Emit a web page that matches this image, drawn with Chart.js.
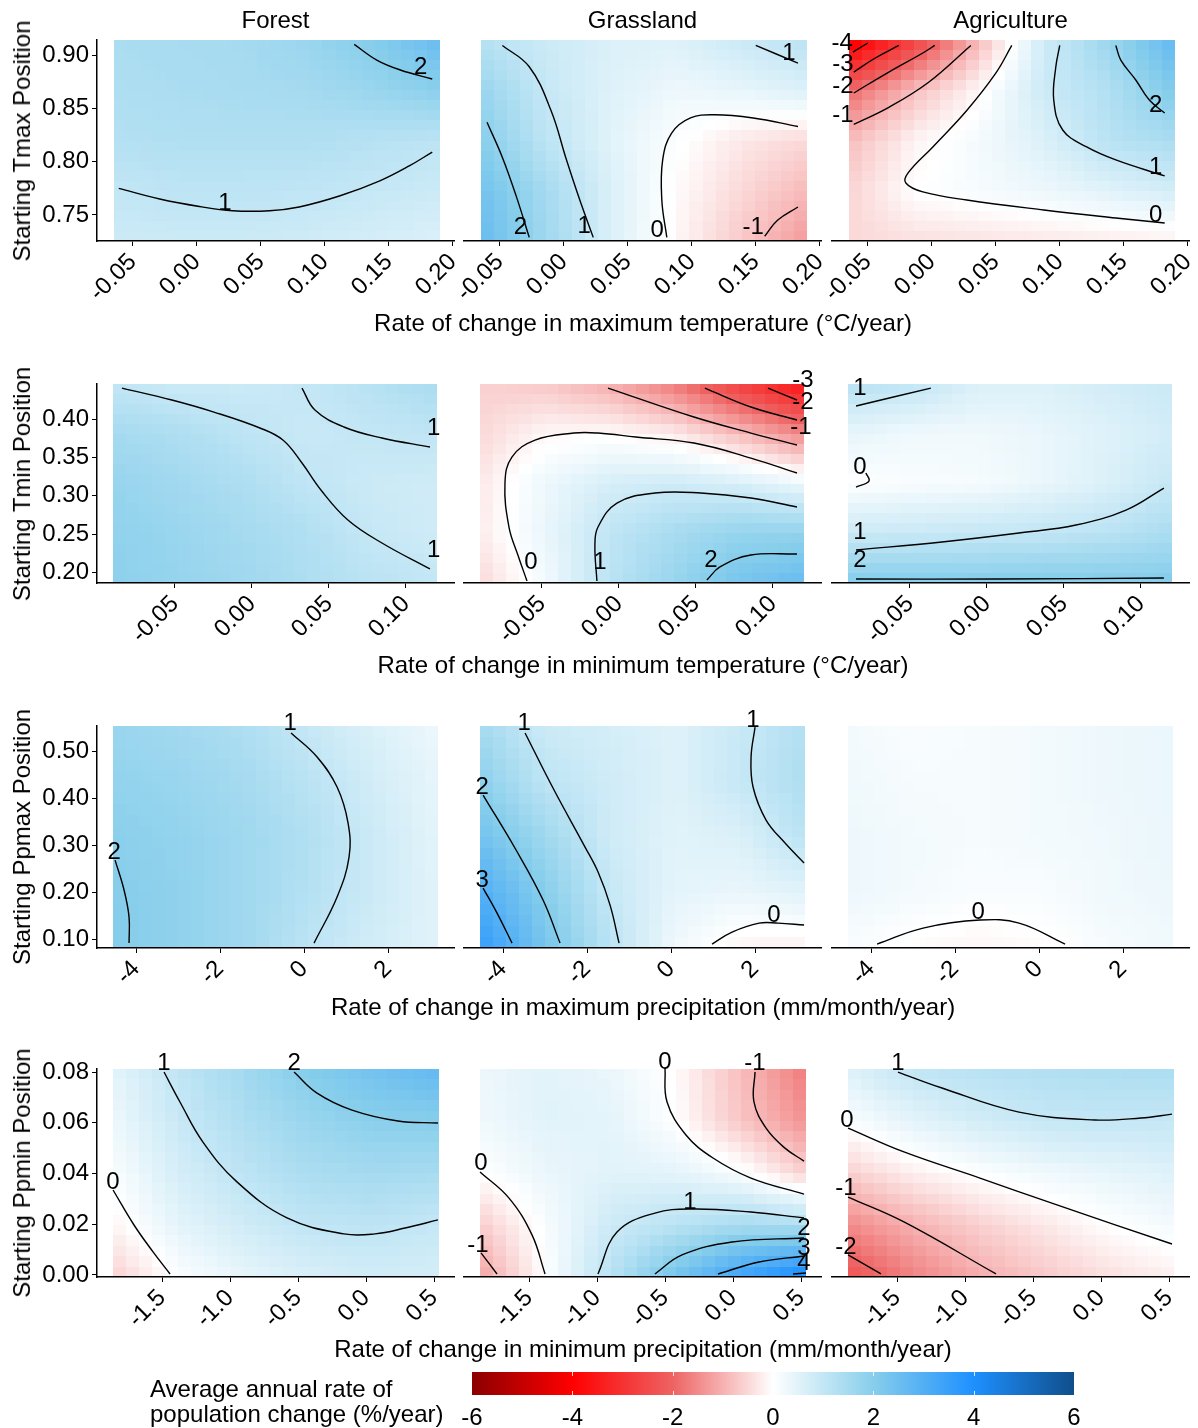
<!DOCTYPE html>
<html>
<head>
<meta charset="utf-8">
<title>Population change surfaces</title>
<script src="https://cdn.jsdelivr.net/npm/chart.js@4.4.1/dist/chart.umd.min.js"></script>
<style>
  html, body { margin: 0; padding: 0; background: #fff; }
  #page { position: relative; width: 1198px; height: 1428px; overflow: hidden;
          font-family: "Liberation Sans", Arial, sans-serif; color: #000; }
  #page canvas { position: absolute; }
  .lbl { position: absolute; font-size: 24px; line-height: 24px; white-space: nowrap; transform: translate(-50%, -50%); }
  .ylbl { transform: translate(-50%, -50%) rotate(-90deg); }
  .legend-title { position: absolute; font-size: 24px; line-height: 25px; white-space: nowrap; }
</style>
</head>
<body>
<div id="page"></div>
<script>
// ---------- labels ----------
const colTitles = ['Forest', 'Grassland', 'Agriculture'];
const xTitles = [
  'Rate of change in maximum temperature (°C/year)',
  'Rate of change in minimum temperature (°C/year)',
  'Rate of change in maximum precipitation (mm/month/year)',
  'Rate of change in minimum precipitation (mm/month/year)'
];
const yTitles = ['Starting Tmax Position', 'Starting Tmin Position', 'Starting Ppmax Position', 'Starting Ppmin Position'];

// ---------- colour scale ----------
const legendValues = [-6, -4, -2, 0, 2, 4, 6];
const legendColors = ['#8B0000', '#FF0000', '#EE6363', '#FFFFFF', '#87CEEB', '#1E90FF', '#104E8B'];

// ---------- row 1 : Tmax ----------
const tmaxXTicks = [-0.05, 0, 0.05, 0.10, 0.15, 0.20];
const tmaxYTicks = [0.75, 0.80, 0.85, 0.90];
const tmaxXLim = [-0.078, 0.201];
const tmaxYLim = [0.7256, 0.9141];
const tmaxXNodes = [-0.065, -0.014, 0.037, 0.088, 0.139, 0.19];
const tmaxYNodes = [0.7256, 0.7727, 0.8198, 0.867, 0.9141];
const tmaxForest = [
  [0.85, 0.85, 0.85, 0.8, 0.7, 0.6],
  [1.0, 1.1, 1.1, 1.05, 0.95, 0.85],
  [1.25, 1.3, 1.3, 1.3, 1.2, 1.1],
  [1.35, 1.4, 1.45, 1.5, 1.7, 1.95],
  [1.4, 1.45, 1.5, 1.7, 2.05, 2.6]
];
const tmaxGrass = [
  [2.6, 1.6, 0.6, -0.1, -0.7, -1.3],
  [2.4, 1.5, 0.6, -0.05, -0.5, -0.9],
  [2.0, 1.1, 0.5, 0.05, -0.3, -0.5],
  [1.7, 0.95, 0.55, 0.3, 0.4, 0.6],
  [1.2, 0.85, 0.6, 0.55, 0.9, 1.15]
];
const tmaxAgri = [
  [-0.5, -0.4, -0.35, -0.3, -0.25, -0.2],
  [-0.55, 0.0, 0.15, 0.3, 0.5, 0.75],
  [-0.85, -0.15, 0.2, 0.6, 1.2, 1.4],
  [-1.95, -0.85, -0.1, 0.85, 1.3, 2.15],
  [-4.3, -2.7, -0.9, 0.8, 1.7, 2.7]
];
const tmaxForestLines = [
  { level: '1', at: [0.022, 0.761], pts: [[-0.061, 0.775], [-0.029, 0.765], [0.002, 0.758], [0.028, 0.754], [0.057, 0.754], [0.080, 0.7575], [0.112, 0.768], [0.143, 0.782], [0.166, 0.796], [0.184, 0.809]] },
  { level: '2', at: [0.175, 0.888], pts: [[0.123, 0.910], [0.141, 0.895], [0.159, 0.886], [0.184, 0.8775]] }
];
const tmaxGrassLines = [
  { level: '2', at: [-0.034, 0.738], pts: [[-0.060, 0.837], [-0.048, 0.804], [-0.037, 0.767], [-0.027, 0.729]] },
  { level: '1', at: [0.016, 0.739], pts: [[-0.048, 0.909], [-0.027, 0.889], [-0.010, 0.848], [0.002, 0.802], [0.0125, 0.764], [0.023, 0.729]] },
  { level: '0', at: [0.073, 0.736], pts: [[0.0805, 0.729], [0.0766, 0.764], [0.0773, 0.802], [0.0844, 0.827], [0.099, 0.841], [0.118, 0.844], [0.148, 0.841], [0.183, 0.833]] },
  { level: '-1', at: [0.148, 0.738], pts: [[0.157, 0.730], [0.167, 0.745], [0.183, 0.7575]] },
  { level: '1', at: [0.176, 0.902], pts: [[0.150, 0.909], [0.183, 0.8925]] }
];
const tmaxAgriLines = [
  { level: '-4', at: [-0.070, 0.911], pts: [[-0.0617, 0.9028], [-0.050, 0.9113]] },
  { level: '-3', at: [-0.0695, 0.8916], pts: [[-0.061, 0.884], [-0.0445, 0.897], [-0.0258, 0.909]] },
  { level: '-2', at: [-0.0695, 0.871], pts: [[-0.061, 0.8644], [-0.0336, 0.884], [-0.007, 0.9019], [0.0023, 0.909]] },
  { level: '-1', at: [-0.0695, 0.8437], pts: [[-0.061, 0.835], [-0.0336, 0.851], [-0.003, 0.874], [0.0305, 0.909]] },
  { level: '0', at: [0.175, 0.750], pts: [[0.0625, 0.909], [0.050, 0.883], [0.0273, 0.848], [0.0008, 0.8138], [-0.0188, 0.789], [-0.0203, 0.780], [-0.007, 0.7716], [0.0273, 0.764], [0.0875, 0.7547], [0.1438, 0.7472], [0.182, 0.7425]] },
  { level: '1', at: [0.175, 0.795], pts: [[0.100, 0.909], [0.0969, 0.8888], [0.0953, 0.8578], [0.1023, 0.8297], [0.121, 0.8138], [0.1438, 0.8016], [0.182, 0.7866]] },
  { level: '2', at: [0.175, 0.853], pts: [[0.1438, 0.909], [0.1477, 0.8953], [0.1594, 0.8766], [0.170, 0.8578], [0.182, 0.8456]] }
];

// ---------- row 2 : Tmin ----------
const tminXTicks = [-0.05, 0, 0.05, 0.10];
const tminYTicks = [0.20, 0.25, 0.30, 0.35, 0.40];
const tminXLim = [-0.1006, 0.1312];
const tminYLim = [0.1861, 0.4457];
const tminXNodes = [-0.09, -0.048, -0.006, 0.036, 0.078, 0.12];
const tminYNodes = [0.1861, 0.251, 0.3159, 0.3808, 0.4457];
const tminForest = [
  [1.9, 1.75, 1.6, 1.35, 1.15, 1.0],
  [1.85, 1.7, 1.5, 1.3, 0.95, 0.8],
  [1.75, 1.55, 1.35, 1.05, 0.85, 0.8],
  [1.5, 1.35, 1.1, 0.9, 1.0, 1.05],
  [1.02, 0.85, 0.85, 0.98, 1.2, 1.45]
];
const tminGrass = [
  [-0.5, 0.2, 1.15, 1.7, 2.3, 2.6],
  [-0.25, 0.35, 1.05, 1.45, 1.75, 1.8],
  [-0.3, 0.3, 0.7, 0.8, 0.65, 0.3],
  [-0.5, -0.1, -0.05, -0.25, -0.85, -1.5],
  [-0.6, -0.7, -1.05, -1.7, -2.7, -3.6]
];
const tminAgri = [
  [2.05, 2.05, 2.05, 2.05, 2.05, 2.05],
  [0.85, 0.9, 0.95, 1.02, 1.15, 1.4],
  [0.0, 0.1, 0.15, 0.35, 0.6, 0.95],
  [0.4, 0.25, 0.25, 0.35, 0.55, 0.75],
  [1.2, 1.05, 0.6, 0.6, 0.75, 0.9]
];
const tminForestLines = [
  { level: '1', at: [0.118, 0.229], pts: [[-0.0844, 0.4404], [-0.052, 0.4248], [-0.0247, 0.4091], [0.0052, 0.3883], [0.0201, 0.3726], [0.0325, 0.3426], [0.0448, 0.3074], [0.0623, 0.2683], [0.0844, 0.2383], [0.1156, 0.2044]] },
  { level: '1', at: [0.118, 0.388], pts: [[0.0325, 0.4404], [0.0409, 0.4117], [0.0597, 0.3896], [0.0844, 0.3752], [0.1156, 0.3635]] }
];
const tminGrassLines = [
  { level: '0', at: [-0.0571, 0.2135], pts: [[-0.0597, 0.1887], [-0.0655, 0.222], [-0.0714, 0.2591], [-0.074, 0.3165], [-0.0695, 0.3504], [-0.0545, 0.3726], [-0.0292, 0.3817], [-0.0136, 0.3817], [0.011, 0.3765], [0.0487, 0.3687], [0.0857, 0.3491], [0.1156, 0.3296]] },
  { level: '1', at: [-0.0123, 0.2135], pts: [[-0.0143, 0.1887], [-0.0156, 0.2357], [-0.0136, 0.2591], [-0.0013, 0.2904], [0.0234, 0.3035], [0.0532, 0.3035], [0.0857, 0.297], [0.1156, 0.2852]] },
  { level: '2', at: [0.0597, 0.216], pts: [[0.0571, 0.19], [0.0656, 0.207], [0.0857, 0.2226], [0.1156, 0.2239]] },
  { level: '-1', at: [0.1182, 0.3896], pts: [[-0.0071, 0.4404], [0.0487, 0.4026], [0.0857, 0.3817], [0.1156, 0.3661]] },
  { level: '-2', at: [0.1195, 0.422], pts: [[0.0558, 0.4404], [0.0857, 0.4157], [0.1156, 0.3987]] },
  { level: '-3', at: [0.1195, 0.4509], pts: [[0.0968, 0.4404], [0.1156, 0.4248]] }
];
const tminAgriLines = [
  { level: '1', at: [-0.0825, 0.4404], pts: [[-0.085, 0.417], [-0.0364, 0.4404]] },
  { level: '0', at: [-0.0825, 0.3374], pts: [[-0.085, 0.3113], [-0.0766, 0.3191], [-0.0786, 0.3296]] },
  { level: '1', at: [-0.0825, 0.2526], pts: [[-0.085, 0.2291], [-0.0292, 0.2396], [0.0208, 0.2513], [0.0578, 0.2617], [0.0903, 0.2813], [0.1149, 0.31]] },
  { level: '2', at: [-0.0825, 0.2161], pts: [[-0.085, 0.1913], [0.0084, 0.1913], [0.1149, 0.1926]] }
];

// ---------- row 3 : Ppmax ----------
const ppmaxXTicks = [-4, -2, 0, 2];
const ppmaxYTicks = [0.10, 0.20, 0.30, 0.40, 0.50];
const ppmaxXLim = [-4.93, 3.57];
const ppmaxYLim = [0.081, 0.5532];
const ppmaxXNodes = [-4.55, -3.0, -1.45, 0.1, 1.65, 3.2];
const ppmaxYNodes = [0.081, 0.199, 0.317, 0.4351, 0.5532];
const ppmaxForest = [
  [2.05, 1.85, 1.6, 1.1, 0.75, 0.5],
  [2.03, 1.85, 1.6, 1.25, 0.85, 0.5],
  [1.95, 1.8, 1.6, 1.3, 0.85, 0.45],
  [1.8, 1.7, 1.5, 1.15, 0.75, 0.4],
  [1.7, 1.55, 1.35, 0.95, 0.6, 0.3]
];
const ppmaxGrass = [
  [3.6, 2.3, 1.15, 0.25, -0.15, -0.2],
  [3.05, 2.0, 0.95, 0.45, 0.35, 0.5],
  [2.4, 1.6, 0.8, 0.5, 0.6, 1.15],
  [1.9, 1.1, 0.8, 0.55, 0.95, 1.35],
  [1.5, 0.85, 0.7, 0.55, 0.9, 1.3]
];
const ppmaxAgri = [
  [0.1, -0.05, -0.12, -0.05, 0.15, 0.25],
  [0.3, 0.2, 0.1, 0.12, 0.25, 0.3],
  [0.3, 0.2, 0.15, 0.2, 0.25, 0.35],
  [0.25, 0.15, 0.15, 0.2, 0.3, 0.35],
  [0.2, 0.1, 0.15, 0.2, 0.3, 0.35]
];
const ppmaxForestLines = [
  { level: '1', at: [-0.333, 0.5596], pts: [[-0.31, 0.5383], [0.31, 0.4872], [0.786, 0.4234], [1.048, 0.3468], [1.071, 0.2745], [0.786, 0.1894], [0.238, 0.0915]] },
  { level: '2', at: [-4.52, 0.285], pts: [[-4.5, 0.268], [-4.286, 0.2043], [-4.167, 0.1468], [-4.167, 0.0915]] }
];
const ppmaxGrassLines = [
  { level: '1', at: [-3.5, 0.5596], pts: [[-3.476, 0.5383], [-2.786, 0.417], [-2.048, 0.2957], [-1.738, 0.2426], [-1.452, 0.1723], [-1.238, 0.0915]] },
  { level: '2', at: [-4.5, 0.4234], pts: [[-4.476, 0.4064], [-3.69, 0.2894], [-3.048, 0.183], [-2.643, 0.0915]] },
  { level: '3', at: [-4.5, 0.2255], pts: [[-4.476, 0.2085], [-4.143, 0.1553], [-3.786, 0.0915]] },
  { level: '1', at: [1.952, 0.566], pts: [[2.0, 0.551], [1.905, 0.4872], [1.952, 0.4234], [2.262, 0.3532], [2.714, 0.3043], [3.167, 0.2617]] },
  { level: '0', at: [2.452, 0.151], pts: [[0.976, 0.0894], [1.452, 0.1149], [2.095, 0.134], [2.548, 0.134], [3.167, 0.1298]] }
];
const ppmaxAgriLines = [
  { level: '0', at: [-1.452, 0.1574], pts: [[-3.857, 0.0894], [-2.762, 0.1234], [-1.405, 0.1404], [-0.476, 0.134], [0.619, 0.0894]] }
];

// ---------- row 4 : Ppmin ----------
const ppminXTicks = [-1.5, -1.0, -0.5, 0.0, 0.5];
const ppminYTicks = [0.00, 0.02, 0.04, 0.06, 0.08];
const ppminXLim = [-1.978, 0.647];
const ppminYLim = [-0.0008, 0.0812];
const ppminXNodes = [-1.86, -1.38, -0.9, -0.42, 0.06, 0.54];
const ppminYNodes = [-0.0008, 0.0197, 0.0402, 0.0607, 0.0812];
const ppminForest = [
  [-0.6, 0.05, 0.4, 0.65, 0.75, 0.7],
  [-0.15, 0.45, 0.8, 1.05, 1.1, 0.95],
  [0.1, 0.7, 1.1, 1.4, 1.5, 1.45],
  [0.3, 0.9, 1.35, 1.7, 1.95, 2.0],
  [0.45, 1.05, 1.55, 2.05, 2.4, 2.7]
];
const ppminGrass = [
  [-1.2, 0.0, 1.2, 2.35, 3.4, 4.2],
  [-0.65, 0.1, 0.85, 1.15, 1.45, 1.35],
  [0.0, 0.35, 0.5, 0.45, 0.1, -0.6],
  [0.25, 0.5, 0.45, 0.0, -0.75, -1.4],
  [0.3, 0.5, 0.35, -0.05, -0.85, -1.7]
];
const ppminAgri = [
  [-2.3, -1.6, -1.05, -0.7, -0.4, -0.2],
  [-1.5, -1.0, -0.6, -0.3, 0.0, 0.2],
  [-0.6, -0.2, 0.05, 0.25, 0.4, 0.55],
  [0.1, 0.45, 0.75, 0.95, 1.0, 0.95],
  [0.55, 1.05, 1.2, 1.3, 1.35, 1.4]
];
const ppminForestLines = [
  { level: '0', at: [-1.86, 0.0367], pts: [[-1.86, 0.0335], [-1.706, 0.0197], [-1.566, 0.0091], [-1.441, 0.0004]] },
  { level: '1', at: [-1.485, 0.0835], pts: [[-1.485, 0.080], [-1.368, 0.0682], [-1.199, 0.0524], [-0.949, 0.0367], [-0.581, 0.0225], [-0.162, 0.0162], [0.066, 0.0162], [0.287, 0.0185], [0.529, 0.0217]] },
  { level: '2', at: [-0.529, 0.0835], pts: [[-0.529, 0.080], [-0.36, 0.0717], [-0.103, 0.065], [0.235, 0.0607], [0.529, 0.0599]] }
];
const ppminGrassLines = [
  { level: '0', at: [-1.853, 0.0441], pts: [[-1.86, 0.0406], [-1.647, 0.0303], [-1.478, 0.0158], [-1.382, 0.0004]] },
  { level: '-1', at: [-1.875, 0.0118], pts: [[-1.853, 0.0087], [-1.735, 0.0004]] },
  { level: '1', at: [-0.316, 0.0288], pts: [[-0.993, 0.0004], [-0.853, 0.0169], [-0.574, 0.0244], [-0.287, 0.026], [0.132, 0.0248], [0.522, 0.0225]] },
  { level: '2', at: [0.522, 0.0185], pts: [[-0.574, 0.0004], [-0.375, 0.0079], [-0.007, 0.013], [0.522, 0.0146]] },
  { level: '3', at: [0.522, 0.0106], pts: [[-0.11, 0.0004], [0.191, 0.0051], [0.522, 0.0075]] },
  { level: '4', at: [0.522, 0.0047], pts: [[0.441, 0.0004], [0.537, 0.0008]] },
  { level: '0', at: [-0.5, 0.0839], pts: [[-0.5, 0.0816], [-0.485, 0.0682], [-0.346, 0.0552], [-0.147, 0.0461], [0.132, 0.0382], [0.522, 0.0319]] },
  { level: '-1', at: [0.162, 0.0835], pts: [[0.162, 0.080], [0.154, 0.0682], [0.243, 0.0579], [0.382, 0.05], [0.522, 0.0449]] }
];
const ppminAgriLines = [
  { level: '1', at: [-1.493, 0.0835], pts: [[-1.493, 0.080], [-1.169, 0.0737], [-0.603, 0.0642], [-0.044, 0.0611], [0.294, 0.0619], [0.522, 0.0634]] },
  { level: '0', at: [-1.868, 0.0611], pts: [[-1.86, 0.0579], [-1.449, 0.0485], [-0.89, 0.0382], [-0.324, 0.0276], [0.522, 0.0122]] },
  { level: '-1', at: [-1.875, 0.0343], pts: [[-1.86, 0.0307], [-1.449, 0.0209], [-0.772, 0.0004]] },
  { level: '-2', at: [-1.875, 0.011], pts: [[-1.86, 0.0079], [-1.618, 0.0004]] }
];

// ---------- layout ----------
const panelLeft = [97, 464, 832];
const panelWidth = 357;
const panelTop = [40, 384, 726, 1069];
const panelHeight = [201, 199, 222, 208];
const xTitleY = [323, 665, 1007, 1349];
const PAD_T = 26, PAD_R = 26, AX_H = 80, Y_W = 97, PAD_L = 44;
const NX = 25, NY = 20;
const FONT = '"Liberation Sans", Arial, sans-serif';

Chart.defaults.font.family = FONT;
Chart.defaults.color = '#000';

const rows = [
  { xTicks: tmaxXTicks, yTicks: tmaxYTicks, xLim: tmaxXLim, yLim: tmaxYLim, xNodes: tmaxXNodes, yNodes: tmaxYNodes, xDec: 2,
    grids: [tmaxForest, tmaxGrass, tmaxAgri], lines: [tmaxForestLines, tmaxGrassLines, tmaxAgriLines] },
  { xTicks: tminXTicks, yTicks: tminYTicks, xLim: tminXLim, yLim: tminYLim, xNodes: tminXNodes, yNodes: tminYNodes, xDec: 2,
    grids: [tminForest, tminGrass, tminAgri], lines: [tminForestLines, tminGrassLines, tminAgriLines] },
  { xTicks: ppmaxXTicks, yTicks: ppmaxYTicks, xLim: ppmaxXLim, yLim: ppmaxYLim, xNodes: ppmaxXNodes, yNodes: ppmaxYNodes, xDec: 0,
    grids: [ppmaxForest, ppmaxGrass, ppmaxAgri], lines: [ppmaxForestLines, ppmaxGrassLines, ppmaxAgriLines] },
  { xTicks: ppminXTicks, yTicks: ppminYTicks, xLim: ppminXLim, yLim: ppminYLim, xNodes: ppminXNodes, yNodes: ppminYNodes, xDec: 1,
    grids: [ppminForest, ppminGrass, ppminAgri], lines: [ppminForestLines, ppminGrassLines, ppminAgriLines] }
];

const legendRgb = legendColors.map(h => [1, 3, 5].map(k => parseInt(h.slice(k, k + 2), 16)));

function colourFor(v) {
  const n = legendValues.length;
  v = Math.max(legendValues[0], Math.min(legendValues[n - 1], v));
  for (let k = 0; k < n - 1; k++) {
    if (v <= legendValues[k + 1]) {
      const t = (v - legendValues[k]) / (legendValues[k + 1] - legendValues[k]);
      const a = legendRgb[k], b = legendRgb[k + 1];
      return 'rgb(' + a.map((c, m) => Math.round(c + (b[m] - c) * t)).join(',') + ')';
    }
  }
  return legendColors[n - 1];
}

// value at (x, y) from the grid
function fieldAt(xn, yn, z, x, y) {
  let i = 0, j = 0;
  while (i < xn.length - 2 && x > xn[i + 1]) i++;
  while (j < yn.length - 2 && y > yn[j + 1]) j++;
  const tx = Math.min(1, Math.max(0, (x - xn[i]) / (xn[i + 1] - xn[i])));
  const ty = Math.min(1, Math.max(0, (y - yn[j]) / (yn[j + 1] - yn[j])));
  const a = z[j][i] + (z[j][i + 1] - z[j][i]) * tx;
  const b = z[j + 1][i] + (z[j + 1][i + 1] - z[j + 1][i]) * tx;
  return a + (b - a) * ty;
}

function heatPlugin(xn, yn, z) {
  return {
    id: 'heat',
    beforeDraw(chart) {
      const { ctx, scales: { x, y } } = chart;
      const x0 = xn[0], x1 = xn[xn.length - 1], y0 = yn[0], y1 = yn[yn.length - 1];
      const dx = (x1 - x0) / NX, dy = (y1 - y0) / NY;
      ctx.save();
      for (let i = 0; i < NX; i++) {
        const pl = Math.round(x.getPixelForValue(x0 + i * dx));
        const pr = Math.round(x.getPixelForValue(x0 + (i + 1) * dx));
        for (let j = 0; j < NY; j++) {
          const pt = Math.round(y.getPixelForValue(y0 + (j + 1) * dy));
          const pb = Math.round(y.getPixelForValue(y0 + j * dy));
          ctx.fillStyle = colourFor(fieldAt(xn, yn, z, x0 + (i + 0.5) * dx, y0 + (j + 0.5) * dy));
          ctx.fillRect(pl, pt, pr - pl, pb - pt);
        }
      }
      ctx.restore();
    }
  };
}

function labelPlugin(lines) {
  return {
    id: 'contourLabels',
    afterDatasetsDraw(chart) {
      const { ctx, scales: { x, y } } = chart;
      ctx.save();
      ctx.font = '24px ' + FONT;
      ctx.fillStyle = '#000';
      ctx.textAlign = 'center';
      ctx.textBaseline = 'middle';
      lines.forEach(l => ctx.fillText(l.level, x.getPixelForValue(l.at[0]), y.getPixelForValue(l.at[1])));
      ctx.restore();
    }
  };
}

const page = document.getElementById('page');

function addText(txt, x, y, cls) {
  const d = document.createElement('div');
  d.className = 'lbl' + (cls ? ' ' + cls : '');
  d.textContent = txt;
  d.style.left = x + 'px';
  d.style.top = y + 'px';
  page.appendChild(d);
}

function addCanvas(left, top, w, h) {
  const cv = document.createElement('canvas');
  cv.width = w; cv.height = h;
  cv.style.left = left + 'px'; cv.style.top = top + 'px';
  cv.style.width = w + 'px'; cv.style.height = h + 'px';
  page.appendChild(cv);
  return cv;
}

rows.forEach((row, r) => {
  for (let c = 0; c < 3; c++) {
    const first = c === 0;
    const padL = first ? 0 : PAD_L;
    const yw = first ? Y_W : 0;
    const w = padL + yw + panelWidth + PAD_R;
    const h = PAD_T + panelHeight[r] + AX_H;
    const cv = addCanvas(panelLeft[c] - yw - padL, panelTop[r] - PAD_T, w, h);
    const lines = row.lines[c];
    new Chart(cv, {
      type: 'scatter',
      data: {
        datasets: lines.map(l => ({
          data: l.pts.map(p => ({ x: p[0], y: p[1] })),
          showLine: true,
          borderColor: '#000',
          borderWidth: 1.4,
          pointRadius: 0,
          tension: 0.4,
          clip: false
        }))
      },
      options: {
        responsive: false,
        animation: false,
        events: [],
        layout: { padding: { left: padL, top: PAD_T, right: PAD_R, bottom: 0 } },
        plugins: { legend: { display: false }, tooltip: { enabled: false } },
        scales: {
          x: {
            type: 'linear', min: row.xLim[0], max: row.xLim[1],
            afterBuildTicks: s => { s.ticks = row.xTicks.map(v => ({ value: v })); },
            afterFit: s => { s.height = AX_H; s.paddingLeft = 0; s.paddingRight = 0; },
            ticks: { minRotation: 45, maxRotation: 45, autoSkip: false, padding: 2,
                     font: { size: 24 }, color: '#000', callback: v => Number(v).toFixed(row.xDec) },
            grid: { drawOnChartArea: false, drawTicks: true, tickLength: 5, color: '#000' },
            border: { display: true, color: '#000', width: 1.5 }
          },
          y: {
            type: 'linear', display: first, min: row.yLim[0], max: row.yLim[1],
            afterBuildTicks: s => { s.ticks = row.yTicks.map(v => ({ value: v })); },
            afterFit: s => { s.width = first ? Y_W : 0; s.paddingTop = 0; s.paddingBottom = 0; },
            ticks: { padding: 3, font: { size: 24 }, color: '#000', callback: v => Number(v).toFixed(2) },
            grid: { drawOnChartArea: false, drawTicks: true, tickLength: 5, color: '#000' },
            border: { display: true, color: '#000', width: 1.5 }
          }
        }
      },
      plugins: [heatPlugin(row.xNodes, row.yNodes, row.grids[c]), labelPlugin(lines)]
    });
  }
  const top = panelTop[r], bottom = top + panelHeight[r];
  addText(xTitles[r], 643, xTitleY[r]);
  addText(yTitles[r], 22, (top + bottom) / 2, 'ylbl');
});

colTitles.forEach((t, c) => addText(t, panelLeft[c] + panelWidth / 2, 20));

// ---------- colour bar ----------
const legendTicks = [-6, -4, -2, 0, 2, 4, 6];
const barCanvas = addCanvas(440, 1360, 680, 68);
new Chart(barCanvas, {
  type: 'scatter',
  data: { datasets: [] },
  options: {
    responsive: false,
    animation: false,
    events: [],
    layout: { padding: { left: 32, right: 46, top: 12, bottom: 0 } },
    plugins: { legend: { display: false }, tooltip: { enabled: false } },
    scales: {
      x: {
        type: 'linear', min: legendValues[0], max: legendValues[legendValues.length - 1],
        afterBuildTicks: s => { s.ticks = legendTicks.map(v => ({ value: v })); },
        afterFit: s => { s.height = 33; s.paddingLeft = 0; s.paddingRight = 0; },
        ticks: { padding: 1, maxRotation: 0, font: { size: 24 }, color: '#000' },
        grid: { display: false },
        border: { display: false }
      },
      y: { display: false, min: 0, max: 1 }
    }
  },
  plugins: [{
    id: 'bar',
    beforeDraw(chart) {
      const { ctx, chartArea: a, scales: { x } } = chart;
      const g = ctx.createLinearGradient(x.getPixelForValue(legendValues[0]), 0, x.getPixelForValue(legendValues[legendValues.length - 1]), 0);
      const span = legendValues[legendValues.length - 1] - legendValues[0];
      legendValues.forEach((v, k) => g.addColorStop((v - legendValues[0]) / span, legendColors[k]));
      ctx.save();
      ctx.fillStyle = g;
      ctx.fillRect(a.left, a.top, a.right - a.left, a.bottom - a.top);
      ctx.strokeStyle = 'rgba(255,255,255,0.8)';
      ctx.lineWidth = 1;
      legendTicks.slice(1, -1).forEach(v => {
        const px = Math.round(x.getPixelForValue(v)) + 0.5;
        ctx.beginPath();
        ctx.moveTo(px, a.top); ctx.lineTo(px, a.top + 4);
        ctx.moveTo(px, a.bottom - 4); ctx.lineTo(px, a.bottom);
        ctx.stroke();
      });
      ctx.restore();
    }
  }]
});

const lt = document.createElement('div');
lt.className = 'legend-title';
lt.style.left = '150px';
lt.style.top = '1376px';
lt.innerHTML = 'Average annual rate of<br>population change (%/year)';
page.appendChild(lt);
</script>
</body>
</html>
